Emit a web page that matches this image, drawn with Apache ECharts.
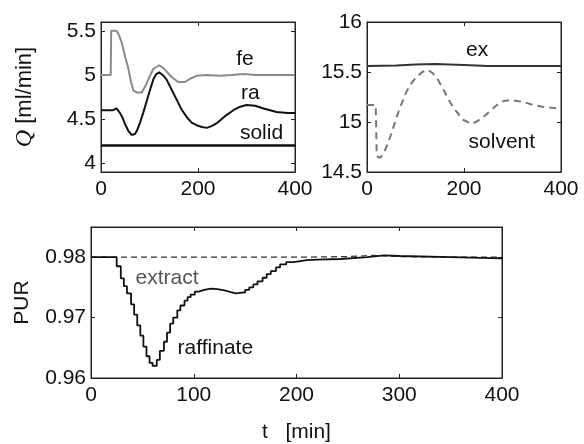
<!DOCTYPE html>
<html>
<head>
<meta charset="utf-8">
<script src="https://cdn.jsdelivr.net/npm/echarts@6/dist/echarts.min.js"></script>
<style>
  html, body { margin: 0; padding: 0; background: #fff; }
  #chart { width: 584px; height: 444px; }
</style>
</head>
<body>
<div id="chart"></div>
<script>
// 数据: [t (min), 值]
var feData = [[0, 5.0], [20, 5.0], [21, 5.5], [32, 5.5], [38, 5.44], [43, 5.36], [50, 5.2], [56, 5.08], [62, 4.92], [67, 4.82], [75, 4.8], [84, 4.8], [92, 4.88], [100, 4.98], [108, 5.07], [120, 5.11], [128, 5.08], [135, 5.04], [145, 4.98], [159, 4.92], [173, 4.92], [185, 4.96], [197, 4.99], [218, 5.0], [245, 4.99], [270, 5.0], [293, 5.01], [320, 5.0], [341, 5.0], [400, 5.0]];
var raData = [[0, 4.6], [25, 4.6], [32, 4.62], [39, 4.57], [44, 4.52], [49, 4.45], [56, 4.37], [63, 4.32], [70, 4.33], [75, 4.38], [80, 4.45], [87, 4.57], [94, 4.7], [101, 4.83], [108, 4.95], [114, 5.01], [120, 5.03], [127, 5.0], [135, 4.95], [145, 4.84], [156, 4.72], [166, 4.61], [177, 4.52], [187, 4.46], [197, 4.43], [208, 4.41], [218, 4.4], [228, 4.42], [238, 4.45], [255, 4.53], [273, 4.6], [287, 4.64], [300, 4.66], [318, 4.65], [335, 4.62], [362, 4.58], [385, 4.57], [400, 4.57]];
var solidData = [[0, 4.2], [400, 4.2]];

var exData = [[0, 15.56], [60, 15.565], [100, 15.575], [140, 15.58], [200, 15.57], [250, 15.56], [400, 15.56]];
var solventData = [[0, 15.17], [18, 15.17], [20, 14.66], [26, 14.64], [33, 14.67], [40, 14.75], [50, 14.88], [61, 15.05], [71, 15.18], [81, 15.3], [92, 15.39], [102, 15.45], [114, 15.5], [126, 15.52], [135, 15.49], [143, 15.45], [157, 15.33], [171, 15.2], [185, 15.1], [199, 15.02], [216, 14.98], [228, 15.01], [240, 15.05], [254, 15.11], [268, 15.17], [282, 15.21], [295, 15.22], [309, 15.21], [323, 15.2], [343, 15.17], [364, 15.15], [385, 15.14], [400, 15.13]];

var raffData = [[0, 0.98], [22, 0.98], [25, 0.9785], [29, 0.9765], [32, 0.9752], [35, 0.974], [39, 0.9722], [42, 0.9705], [45, 0.9687], [48, 0.967], [51, 0.9652], [54, 0.9636], [57, 0.9625], [60, 0.962], [64, 0.963], [67, 0.9645], [71, 0.966], [74, 0.9675], [77, 0.969], [80, 0.97], [84, 0.9712], [87, 0.972], [91, 0.9728], [94, 0.9734], [97, 0.9738], [101, 0.9743], [105, 0.9746], [110, 0.9748], [117, 0.9747], [123, 0.9745], [130, 0.9742], [136, 0.974], [141, 0.9741], [145, 0.9742], [150, 0.9746], [154, 0.975], [158, 0.9755], [162, 0.976], [167, 0.9766], [171, 0.9772], [175, 0.9777], [180, 0.9783], [184, 0.9788], [190, 0.9792], [197, 0.9795], [210, 0.9796], [220, 0.9797], [243, 0.98], [269, 0.9803], [285, 0.9802], [301, 0.98], [350, 0.9798], [400, 0.9798]];
var extrData = [[0, 0.98], [100, 0.98], [200, 0.98], [250, 0.9801], [275, 0.9803], [300, 0.9801], [350, 0.98], [400, 0.98]];

var topTicks = [0, 200, 400];
var bottomTicks = [0, 100, 200, 300, 400];
var qTicks = [4, 4.5, 5, 5.5];

var font = 'Liberation Sans, Arial, Helvetica, sans-serif';
var fs = 21;
var myChart = echarts.init(document.getElementById('chart'), null, {renderer: 'canvas'});

function xAx(grid, ticks, pos, show) {
    return {
        type: 'value', gridIndex: grid, position: pos, min: 0, max: 400,
        axisLine: {show: true, onZero: false, lineStyle: {color: '#222', width: 1}},
        axisTick: {show: true, inside: true, length: 4, customValues: ticks, lineStyle: {color: '#222'}},
        axisLabel: {show: show, customValues: ticks, color: '#111', fontSize: fs, fontFamily: font, margin: 7},
        splitLine: {show: false}
    };
}
function yAx(grid, min, max, ticks, pos, show) {
    return {
        type: 'value', gridIndex: grid, position: pos, min: min, max: max,
        axisLine: {show: true, onZero: false, lineStyle: {color: '#222', width: 1}},
        axisTick: {show: true, inside: true, length: 4, customValues: ticks, lineStyle: {color: '#222'}},
        axisLabel: {show: show, customValues: ticks, color: '#111', fontSize: fs, fontFamily: font, margin: 5},
        splitLine: {show: false}
    };
}

var xAxes = [
    xAx(0, topTicks, 'bottom', true), xAx(0, topTicks, 'top', false),
    xAx(1, topTicks, 'bottom', true), xAx(1, topTicks, 'top', false),
    xAx(2, bottomTicks, 'bottom', true), xAx(2, bottomTicks, 'top', false)
];
xAxes[4].name = 't   [min]';
xAxes[4].nameLocation = 'middle';
xAxes[4].nameGap = 44;
xAxes[4].nameTextStyle = {color: '#111', fontSize: fs, fontFamily: font};

var yAxes = [
    yAx(0, 3.9, 5.6, qTicks, 'left', true), yAx(0, 3.9, 5.6, qTicks, 'right', false),
    yAx(1, 14.5, 16, [14.5, 15, 15.5, 16], 'left', true), yAx(1, 14.5, 16, [14.5, 15, 15.5, 16], 'right', false),
    yAx(2, 0.96, 0.985, [0.96, 0.97, 0.98], 'left', true), yAx(2, 0.96, 0.985, [0.96, 0.97, 0.98], 'right', false)
];
yAxes[0].name = '{q|Q} [ml/min]';
yAxes[0].nameLocation = 'middle';
yAxes[0].nameGap = 64;
yAxes[0].nameTextStyle = {color: '#111', fontSize: 22, fontFamily: font,
    rich: {q: {fontStyle: 'italic', fontFamily: 'Liberation Serif, serif', fontSize: 24, color: '#111'}}};
yAxes[4].name = 'PUR';
yAxes[4].nameLocation = 'middle';
yAxes[4].nameGap = 58;
yAxes[4].nameTextStyle = {color: '#111', fontSize: fs, fontFamily: font};

var option = {
    animation: false,
    backgroundColor: '#fff',
    grid: [
        {left: 101, top: 22, width: 194, height: 150, show: true, borderColor: '#222', borderWidth: 1},
        {left: 367, top: 22, width: 194, height: 150, show: true, borderColor: '#222', borderWidth: 1},
        {left: 91, top: 227, width: 411, height: 151, show: true, borderColor: '#222', borderWidth: 1}
    ],
    xAxis: xAxes,
    yAxis: yAxes,
    series: [
        {name: 'fe', type: 'line', xAxisIndex: 0, yAxisIndex: 0, data: feData, showSymbol: false,
            lineStyle: {color: '#8a8a8a', width: 2}},
        {name: 'ra', type: 'line', xAxisIndex: 0, yAxisIndex: 0, data: raData, showSymbol: false,
            lineStyle: {color: '#111', width: 2}},
        {name: 'solid', type: 'line', xAxisIndex: 0, yAxisIndex: 0, data: solidData, showSymbol: false,
            lineStyle: {color: '#111', width: 2.5}},
        {name: 'ex', type: 'line', xAxisIndex: 2, yAxisIndex: 2, data: exData, showSymbol: false,
            lineStyle: {color: '#333', width: 2}},
        {name: 'solvent', type: 'line', xAxisIndex: 2, yAxisIndex: 2, data: solventData, showSymbol: false,
            lineStyle: {color: '#777', width: 2, type: [7, 5]}},
        {name: 'extract', type: 'line', xAxisIndex: 4, yAxisIndex: 4, data: extrData, showSymbol: false,
            lineStyle: {color: '#333', width: 1.2, type: [6, 4]}},
        {name: 'raffinate', type: 'line', xAxisIndex: 4, yAxisIndex: 4, data: raffData, showSymbol: false, step: 'end',
            lineStyle: {color: '#111', width: 1.8}}
    ]
};
myChart.setOption(option);

// 曲线标注, 位置按数据坐标换算
var notes = [
    ['fe', 0, [297, 5.18], '#111'],
    ['ra', 0, [308, 4.79], '#111'],
    ['solid', 0, [331, 4.34], '#111'],
    ['ex', 2, [227, 15.72], '#111'],
    ['solvent', 2, [278, 14.8], '#111'],
    ['extract', 4, [74, 0.9765], '#555'],
    ['raffinate', 4, [121, 0.965], '#111']
];
var g = [];
for (var i = 0; i < notes.length; i++) {
    var p = myChart.convertToPixel({xAxisIndex: notes[i][1], yAxisIndex: notes[i][1]}, notes[i][2]);
    g.push({type: 'text', x: p[0], y: p[1], silent: true,
        style: {text: notes[i][0], fill: notes[i][3], font: fs + 'px ' + font, align: 'center', verticalAlign: 'middle'}});
}
myChart.setOption({graphic: g});
</script>
</body>
</html>
